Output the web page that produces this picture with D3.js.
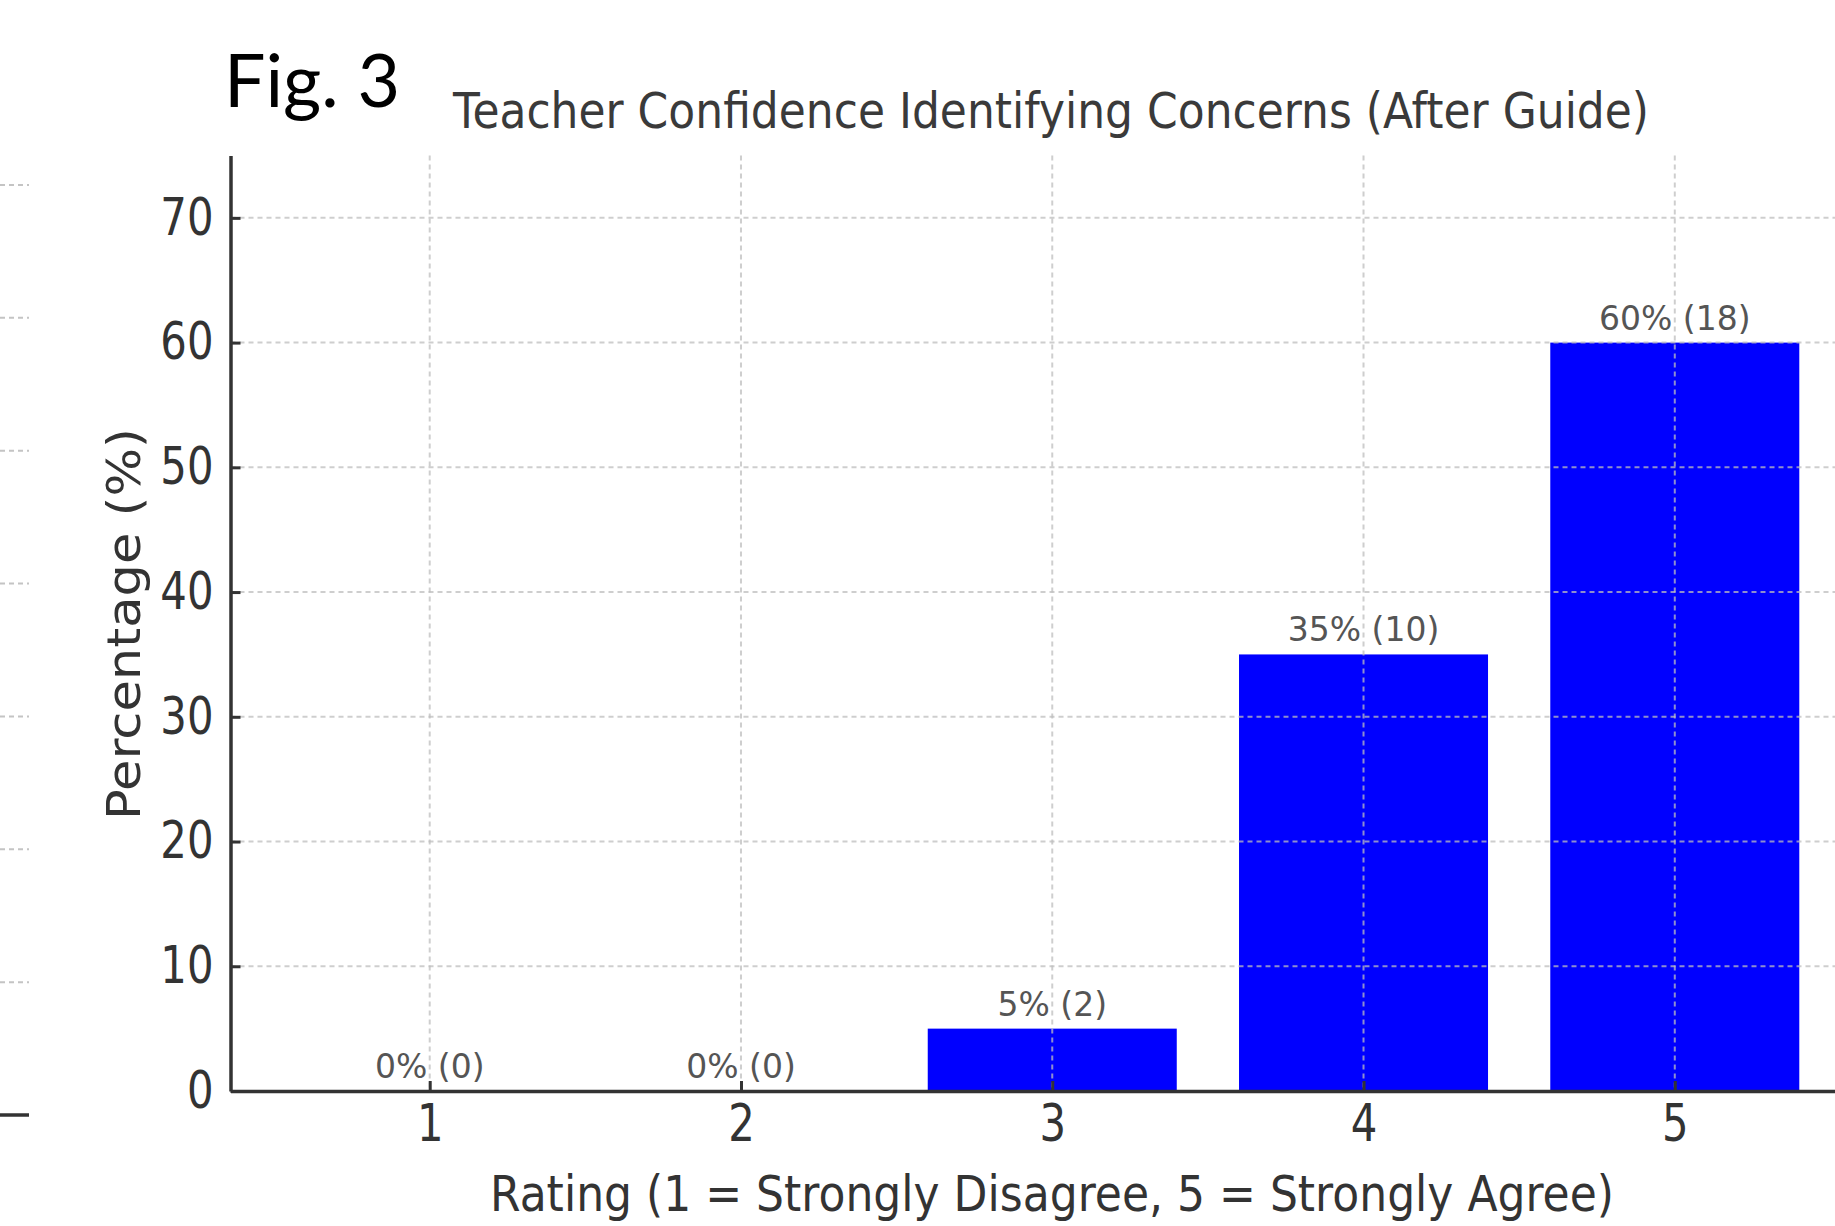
<!DOCTYPE html>
<html>
<head>
<meta charset="utf-8">
<script src="https://cdn.jsdelivr.net/npm/d3@7/dist/d3.min.js"></script>
<style>
  html, body { margin: 0; padding: 0; background: #fff; }
  svg { display: block; }
</style>
</head>
<body>
<svg id="chart" width="1835" height="1226"></svg>
<script>
// ---- data ----
const categories = [1, 2, 3, 4, 5];
const percentages = [0, 0, 5, 35, 60];
const counts = [0, 0, 2, 10, 18];
const yTicks = [0, 10, 20, 30, 40, 50, 60, 70];
const xTicks = [1, 2, 3, 4, 5];
const titleText = "Teacher Confidence Identifying Concerns (After Guide)";
const xLabelText = "Rating (1 = Strongly Disagree, 5 = Strongly Agree)";
const yLabelText = "Percentage (%)";
const figText = "Fig. 3";
// fragments of the neighbouring figure at the left edge
const neighborLevels = [0, 10, 20, 30, 40, 50, 60, 70];

const svg = d3.select("#chart");
const W = 1835, H = 1226;
svg.append("rect").attr("width", W).attr("height", H).attr("fill", "#fff");

const plot = { left: 230.5, right: 1874, top: 155.5, bottom: 1091 };
const x = d3.scaleLinear().domain([0.36, 5.64]).range([plot.left, plot.right]);
const y = d3.scaleLinear().domain([0, 75]).range([plot.bottom, plot.top]);
const barW = 0.8;
const SX = 0.82; // horizontal squash of text in the reference
const FONT = "'DejaVu Sans', sans-serif";

// neighbour figure fragments
const yN = d3.scaleLinear().domain([0, 70]).range([1115, 185]);
svg.append("g").selectAll("line").data(neighborLevels).join("line")
  .attr("x1", 0).attr("x2", 29)
  .attr("y1", d => yN(d)).attr("y2", d => yN(d))
  .attr("stroke", d => d === 0 ? "#333" : "#c4c4c4")
  .attr("stroke-width", d => d === 0 ? 3.5 : 2)
  .attr("stroke-dasharray", d => d === 0 ? null : "5,4");

// bars
const data = categories.map((c, i) => ({ c, p: percentages[i], n: counts[i] }));
svg.append("g").selectAll("rect").data(data).join("rect")
  .attr("x", d => x(d.c - barW / 2))
  .attr("width", d => x(d.c + barW / 2) - x(d.c - barW / 2))
  .attr("y", d => y(d.p))
  .attr("height", d => y(0) - y(d.p))
  .attr("fill", "#0000ff");

// grid (on top of bars)
const grid = svg.append("g").attr("stroke", "#bdbdbd").attr("stroke-opacity", 0.75)
  .attr("stroke-width", 2).attr("stroke-dasharray", "5,4");
grid.selectAll("line.h").data(yTicks.filter(t => t > 0)).join("line").attr("class", "h")
  .attr("x1", plot.left).attr("x2", plot.right)
  .attr("y1", d => y(d)).attr("y2", d => y(d));
grid.selectAll("line.v").data(xTicks).join("line").attr("class", "v")
  .attr("x1", d => x(d)).attr("x2", d => x(d))
  .attr("y1", plot.top).attr("y2", plot.bottom);

// axes
const yAxis = d3.axisLeft(y).tickValues(yTicks).tickFormat(d3.format("d"))
  .tickSizeInner(-10).tickSizeOuter(0).tickPadding(17);
const xAxis = d3.axisBottom(x).tickValues(xTicks).tickFormat(d3.format("d"))
  .tickSizeInner(-10).tickSizeOuter(0).tickPadding(14);

const gy = svg.append("g").attr("transform", `translate(${plot.left},0)`).call(yAxis);
const gx = svg.append("g").attr("transform", `translate(0,${plot.bottom})`).call(xAxis);

[gy, gx].forEach(g => {
  g.select(".domain").attr("stroke", "#333").attr("stroke-width", 3.5);
  g.selectAll(".tick line").attr("stroke", "#333").attr("stroke-width", 3);
  g.selectAll(".tick text").attr("fill", "#333").style("font-family", FONT).style("font-size", "51px");
});
gy.selectAll(".tick text").attr("x", -17 / SX).attr("transform", `scale(${SX},1)`);
gx.selectAll(".tick text").attr("transform", `scale(${SX},1)`);

// bar labels
svg.append("g").selectAll("text").data(data).join("text")
  .attr("transform", d => `translate(${x(d.c)},${y(d.p) - 13})`)
  .attr("text-anchor", "middle")
  .attr("fill", "#555")
  .style("font-family", FONT).style("font-size", "33px")
  .text(d => `${d.p}% (${d.n})`);

// title
svg.append("text")
  .attr("x", 453).attr("y", 128)
  .attr("textLength", 1196).attr("lengthAdjust", "spacingAndGlyphs")
  .attr("fill", "#3a3a3a")
  .style("font-family", FONT).style("font-size", "49px")
  .text(titleText);

// x label
svg.append("text")
  .attr("x", 490).attr("y", 1211)
  .attr("textLength", 1124).attr("lengthAdjust", "spacingAndGlyphs")
  .attr("fill", "#333")
  .style("font-family", FONT).style("font-size", "50px")
  .text(xLabelText);

// y label
svg.append("text")
  .attr("transform", `translate(140,820) rotate(-90)`)
  .attr("x", 0).attr("y", 0)
  .attr("textLength", 392).attr("lengthAdjust", "spacingAndGlyphs")
  .attr("fill", "#333")
  .style("font-family", FONT).style("font-size", "47px")
  .text(yLabelText);

// Fig. 3
svg.append("text")
  .attr("x", 224).attr("y", 107)
  .attr("textLength", 176).attr("lengthAdjust", "spacingAndGlyphs")
  .attr("fill", "#000")
  .style("font-family", "Lato, 'Open Sans', sans-serif").style("font-size", "74px")
  .text(figText);
</script>
</body>
</html>
